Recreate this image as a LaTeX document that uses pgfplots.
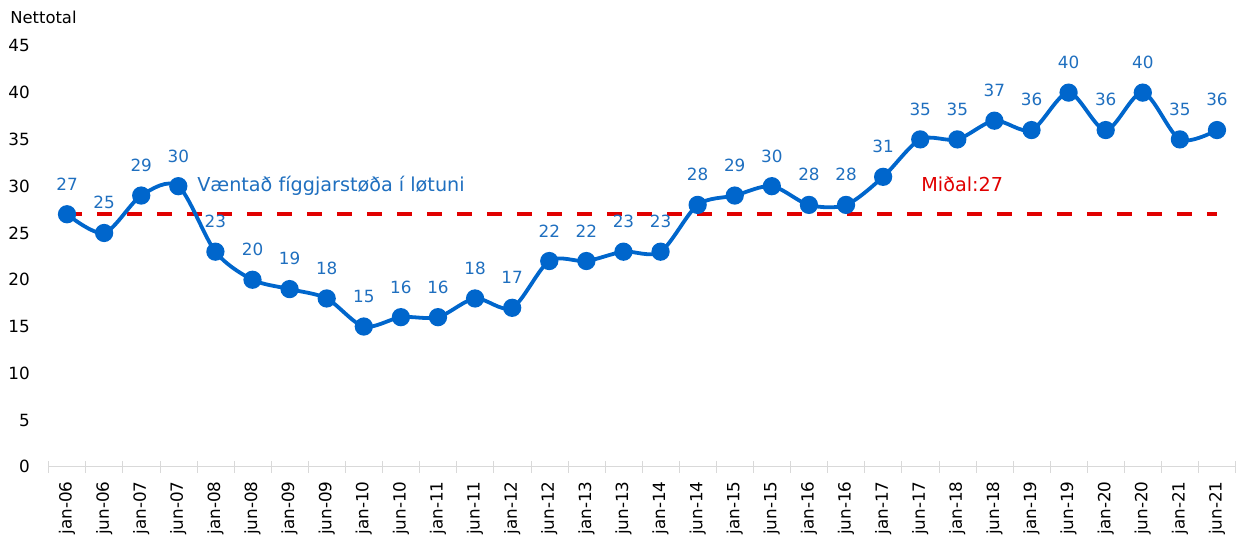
\documentclass[border=0pt]{standalone}
\usepackage{pgfplots}
\pgfplotsset{compat=1.18}
\usepackage{fontspec}
\setmainfont{DejaVu Sans}
\definecolor{lineblue}{HTML}{0066CC}
\definecolor{lblblue}{HTML}{1F6FBF}
\definecolor{midred}{HTML}{E00000}
\definecolor{axgrey}{HTML}{D9D9D9}
\begin{document}
\begin{tikzpicture}
\begin{axis}[
  scale only axis, width=593.5pt, height=210.5pt,
  xmin=-0.5, xmax=31.5, ymin=0, ymax=45,
  axis x line*=bottom, axis y line*=left,
  x axis line style={draw=axgrey, -},
  y axis line style={draw=none},
  ytick={0,5,...,45}, ytick style={draw=none},
  xtick={0,...,31}, major x tick style={draw=none},
  minor xtick={-0.5,0.5,...,31.5}, minor x tick style={draw=axgrey},
  minor tick length=6pt, tick align=center,
  xticklabels={jan-06,jun-06,jan-07,jun-07,jan-08,jun-08,jan-09,jun-09,jan-10,jun-10,jan-11,jun-11,jan-12,jun-12,jan-13,jun-13,jan-14,jun-14,jan-15,jun-15,jan-16,jun-16,jan-17,jun-17,jan-18,jun-18,jan-19,jun-19,jan-20,jun-20,jan-21,jun-21},
  xticklabel style={rotate=90, anchor=east, inner sep=0pt, xshift=-5pt, font=\fontsize{8.4}{9}\selectfont},
  yticklabel style={anchor=east, inner sep=0pt, xshift=-7pt, font=\fontsize{8.4}{9}\selectfont},
  /pgf/number format/assume math mode=true,
  clip=false,
]
\addplot[midred, line width=2pt, dash pattern=on 7.5pt off 7.5pt] coordinates {(0,27) (31,27)};
\addplot[lineblue, line width=1.9pt, smooth, tension=0.5, mark=*, mark size=3.6pt, mark options={fill=lineblue, draw=lineblue},
  nodes near coords, point meta=explicit symbolic,
  nodes near coords style={anchor=south, inner sep=0pt, yshift=11pt, text=lblblue, font=\fontsize{8.4}{9}\selectfont}]
  coordinates {
  (0,27) [27] (1,25) [25] (2,29) [29] (3,30) [30] (4,23) [23] (5,20) [20] (6,19) [19] (7,18) [18]
  (8,15) [15] (9,16) [16] (10,16) [16] (11,18) [18] (12,17) [17] (13,22) [22] (14,22) [22] (15,23) [23]
  (16,23) [23] (17,28) [28] (18,29) [29] (19,30) [30] (20,28) [28] (21,28) [28] (22,31) [31] (23,35) [35]
  (24,35) [35] (25,37) [37] (26,36) [36] (27,40) [40] (28,36) [36] (29,40) [40] (30,35) [35] (31,36) [36]
  };
\node[anchor=west, inner sep=0pt, text=lblblue, font=\fontsize{9.6}{11}\selectfont] at (axis cs:3.5,30.0) {Væntað fíggjarstøða í løtuni};
\node[anchor=west, inner sep=0pt, text=midred, font=\fontsize{9.6}{11}\selectfont] at (axis cs:23.02,30.25) {Miðal:27};
\node[anchor=west, inner sep=0pt, font=\fontsize{8.2}{9}\selectfont] at (axis cs:-1.54,48.0) {Nettotal};
\coordinate (bl) at (axis cs:-1.807,-7.48);
\coordinate (tr) at (axis cs:31.89,49.9);
\end{axis}
\pgfresetboundingbox
\path[use as bounding box] (bl) rectangle (tr);
\end{tikzpicture}
\end{document}
